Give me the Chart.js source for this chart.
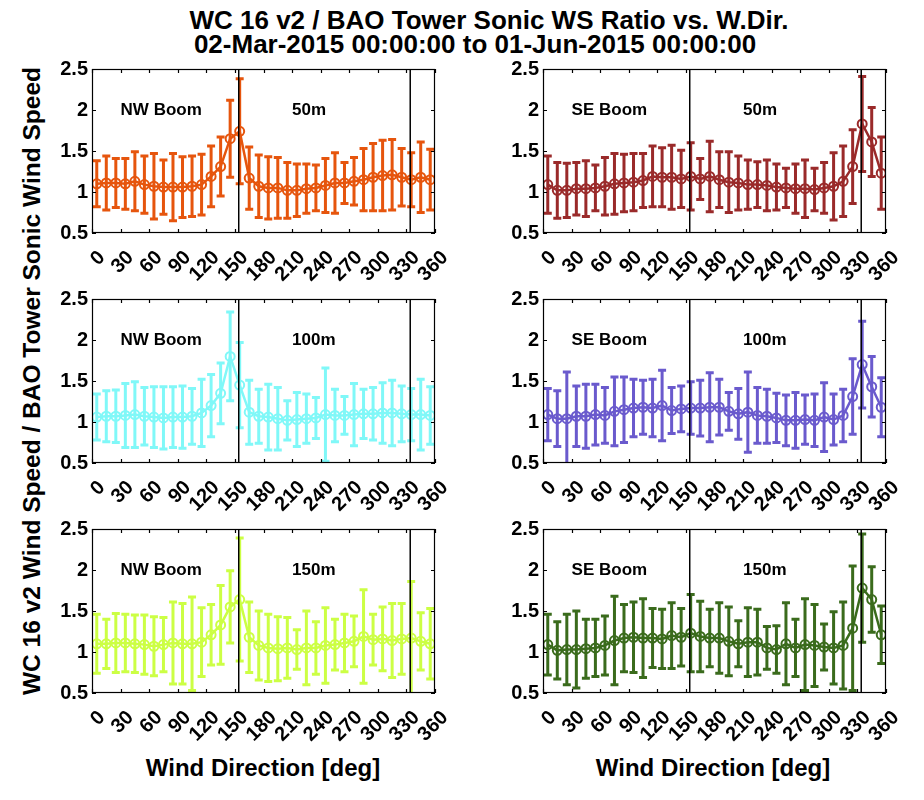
<!DOCTYPE html>
<html>
<head>
<meta charset="utf-8">
<script src="https://cdn.jsdelivr.net/npm/chart.js@4.4.1/dist/chart.umd.min.js"></script>
<style>
  body { margin: 0; background: #fff; width: 924px; height: 800px; position: relative; overflow: hidden;
         font-family: "Liberation Sans", Arial, sans-serif; font-weight: bold; color: #000; }
  canvas { position: absolute; }
  .t { position: absolute; white-space: nowrap; transform: translate(-50%, -50%); }
</style>
</head>
<body>
<div class="t" style="left:489px;top:20px;font-size:26px">WC 16 v2 / BAO Tower Sonic WS Ratio vs. W.Dir.</div>
<div class="t" style="left:475px;top:44px;font-size:26px">02-Mar-2015 00:00:00 to 01-Jun-2015 00:00:00</div>
<div class="t" style="left:32px;top:381px;font-size:24.5px;transform:translate(-50%,-50%) rotate(-90deg)">WC 16 v2 Wind Speed / BAO Tower Sonic Wind Speed</div>
<div class="t" style="left:263px;top:768px;font-size:24px">Wind Direction [deg]</div>
<div class="t" style="left:713px;top:768px;font-size:24px">Wind Direction [deg]</div>

<canvas id="nw50" width="410" height="244" style="left:40px;top:55px"></canvas>
<canvas id="se50" width="410" height="244" style="left:491px;top:55px"></canvas>
<canvas id="nw100" width="410" height="244" style="left:40px;top:285px"></canvas>
<canvas id="se100" width="410" height="244" style="left:491px;top:285px"></canvas>
<canvas id="nw150" width="410" height="244" style="left:40px;top:515px"></canvas>
<canvas id="se150" width="410" height="244" style="left:491px;top:515px"></canvas>

<script>
// wind direction bin centres (deg)
const dirBins = [5, 15, 25, 35, 45, 55, 65, 75, 85, 95, 105, 115, 125, 135, 145, 155, 165, 175,
                 185, 195, 205, 215, 225, 235, 245, 255, 265, 275, 285, 295, 305, 315, 325, 335, 345, 355];
const xTicks = [0, 30, 60, 90, 120, 150, 180, 210, 240, 270, 300, 330, 360];
const yTicks = [0.5, 1, 1.5, 2, 2.5];
const boomDirs = [154, 334];

// mean ratio and std dev per bin
const nw50Mean = [1.10, 1.11, 1.11, 1.10, 1.13, 1.09, 1.07, 1.06, 1.06, 1.06, 1.07, 1.09, 1.19, 1.31, 1.65, 1.74, 1.17, 1.07,
                  1.05, 1.05, 1.02, 1.02, 1.04, 1.05, 1.08, 1.11, 1.11, 1.13, 1.15, 1.18, 1.20, 1.21, 1.18, 1.15, 1.18, 1.15];
const nw50Sd   = [0.28, 0.33, 0.30, 0.31, 0.36, 0.35, 0.40, 0.33, 0.41, 0.37, 0.37, 0.37, 0.37, 0.36, 0.47, 0.64, 0.38, 0.38,
                  0.38, 0.37, 0.34, 0.32, 0.30, 0.28, 0.33, 0.37, 0.25, 0.29, 0.38, 0.41, 0.43, 0.43, 0.35, 0.33, 0.43, 0.37];

const se50Mean = [1.09, 1.02, 1.02, 1.04, 1.04, 1.05, 1.07, 1.10, 1.11, 1.12, 1.14, 1.19, 1.18, 1.18, 1.16, 1.19, 1.16, 1.19,
                  1.15, 1.12, 1.11, 1.09, 1.09, 1.08, 1.06, 1.05, 1.04, 1.04, 1.03, 1.05, 1.07, 1.13, 1.31, 1.83, 1.61, 1.23];
const se50Sd   = [0.35, 0.34, 0.33, 0.32, 0.34, 0.28, 0.35, 0.37, 0.35, 0.35, 0.33, 0.37, 0.36, 0.39, 0.35, 0.41, 0.25, 0.43,
                  0.34, 0.37, 0.33, 0.30, 0.28, 0.31, 0.28, 0.24, 0.30, 0.35, 0.26, 0.31, 0.41, 0.43, 0.45, 0.58, 0.42, 0.44];

const nw100Mean = [1.06, 1.07, 1.07, 1.08, 1.09, 1.07, 1.06, 1.05, 1.06, 1.06, 1.07, 1.11, 1.20, 1.35, 1.80, 1.45, 1.12, 1.07,
                   1.06, 1.04, 1.02, 1.03, 1.04, 1.05, 1.09, 1.08, 1.08, 1.09, 1.10, 1.10, 1.11, 1.11, 1.10, 1.09, 1.09, 1.08];
const nw100Sd   = [0.28, 0.31, 0.32, 0.39, 0.40, 0.35, 0.37, 0.38, 0.37, 0.38, 0.34, 0.41, 0.38, 0.37, 0.54, 0.52, 0.39, 0.33,
                   0.40, 0.38, 0.24, 0.33, 0.30, 0.25, 0.57, 0.32, 0.23, 0.38, 0.30, 0.32, 0.37, 0.40, 0.34, 0.32, 0.43, 0.35];

const se100Mean = [1.09, 1.04, 1.04, 1.07, 1.07, 1.09, 1.08, 1.13, 1.15, 1.17, 1.18, 1.17, 1.20, 1.14, 1.16, 1.17, 1.17, 1.18,
                   1.18, 1.13, 1.10, 1.12, 1.08, 1.07, 1.05, 1.02, 1.02, 1.03, 1.02, 1.06, 1.03, 1.08, 1.31, 1.70, 1.43, 1.18];
const se100Sd   = [0.32, 0.34, 0.57, 0.37, 0.39, 0.37, 0.34, 0.42, 0.40, 0.35, 0.33, 0.35, 0.43, 0.28, 0.28, 0.32, 0.34, 0.42,
                   0.34, 0.23, 0.31, 0.49, 0.34, 0.33, 0.30, 0.31, 0.34, 0.30, 0.32, 0.42, 0.31, 0.32, 0.46, 0.53, 0.37, 0.36];

const nw150Mean = [1.10, 1.10, 1.11, 1.11, 1.10, 1.09, 1.07, 1.09, 1.11, 1.10, 1.10, 1.12, 1.21, 1.33, 1.55, 1.64, 1.18, 1.08,
                   1.05, 1.04, 1.05, 1.03, 1.05, 1.05, 1.08, 1.09, 1.11, 1.13, 1.19, 1.15, 1.16, 1.14, 1.16, 1.17, 1.13, 1.10];
const nw150Sd   = [0.36, 0.30, 0.36, 0.35, 0.35, 0.36, 0.36, 0.33, 0.50, 0.49, 0.57, 0.42, 0.37, 0.48, 0.44, 0.75, 0.43, 0.42,
                   0.41, 0.39, 0.37, 0.24, 0.45, 0.32, 0.46, 0.31, 0.35, 0.31, 0.57, 0.31, 0.39, 0.45, 0.43, 0.69, 0.35, 0.43];

const se150Mean = [1.09, 1.02, 1.03, 1.03, 1.04, 1.05, 1.08, 1.14, 1.17, 1.18, 1.17, 1.17, 1.16, 1.20, 1.18, 1.23, 1.19, 1.17,
                   1.17, 1.13, 1.10, 1.12, 1.12, 1.05, 1.03, 1.10, 1.05, 1.09, 1.08, 1.06, 1.05, 1.08, 1.29, 1.78, 1.64, 1.21];
const se150Sd   = [0.37, 0.35, 0.43, 0.47, 0.36, 0.35, 0.36, 0.54, 0.41, 0.43, 0.48, 0.36, 0.36, 0.40, 0.35, 0.47, 0.43, 0.35,
                   0.43, 0.42, 0.28, 0.42, 0.40, 0.26, 0.29, 0.50, 0.35, 0.56, 0.50, 0.28, 0.44, 0.53, 0.76, 0.66, 0.40, 0.35];

const tickFont = { family: '"Liberation Sans", Arial, sans-serif', size: 20, weight: 'bold' };

// draws the box, inside ticks, boom lines, error bars and the labels inside the axes
const panelPlugin = {
  id: 'panel',
  beforeDatasetsDraw(chart) {
    const { ctx, chartArea: a, scales: { x, y } } = chart;
    const ds = chart.data.datasets[0];
    ctx.save();
    ctx.beginPath();
    ctx.rect(a.left, a.top, a.right - a.left, a.bottom - a.top);
    ctx.clip();
    ctx.strokeStyle = ds.borderColor;
    ctx.lineWidth = 3;
    ds.sd.forEach((s, i) => {
      const px = x.getPixelForValue(dirBins[i]);
      const top = y.getPixelForValue(ds.mean[i] + s);
      const bot = y.getPixelForValue(ds.mean[i] - s);
      ctx.beginPath();
      ctx.moveTo(px, top); ctx.lineTo(px, bot);
      ctx.moveTo(px - 4, top); ctx.lineTo(px + 4, top);
      ctx.moveTo(px - 4, bot); ctx.lineTo(px + 4, bot);
      ctx.stroke();
    });
    ctx.restore();
  },
  afterDatasetsDraw(chart) {
    const { ctx, chartArea: a, scales: { x, y } } = chart;
    const ds = chart.data.datasets[0];
    ctx.save();
    ctx.strokeStyle = '#000';
    ctx.lineWidth = 1.5;
    boomDirs.forEach(d => {
      const px = x.getPixelForValue(d);
      ctx.beginPath();
      ctx.moveTo(px, a.top); ctx.lineTo(px, a.bottom);
      ctx.stroke();
    });
    ctx.lineWidth = 1.2;
    ctx.strokeRect(a.left + 0.5, a.top + 0.5, a.right - a.left - 1, a.bottom - a.top - 1);
    ctx.beginPath();
    xTicks.forEach(v => {
      const px = Math.round(x.getPixelForValue(v)) + 0.5;
      ctx.moveTo(px, a.top); ctx.lineTo(px, a.top + 4);
      ctx.moveTo(px, a.bottom); ctx.lineTo(px, a.bottom - 4);
    });
    yTicks.forEach(v => {
      const py = Math.round(y.getPixelForValue(v)) + 0.5;
      ctx.moveTo(a.left, py); ctx.lineTo(a.left + 4, py);
      ctx.moveTo(a.right, py); ctx.lineTo(a.right - 4, py);
    });
    ctx.stroke();
    ctx.fillStyle = '#000';
    ctx.font = 'bold 17px "Liberation Sans", Arial, sans-serif';
    ctx.textAlign = 'left';
    ctx.textBaseline = 'middle';
    ctx.fillText(ds.boom, x.getPixelForValue(30), y.getPixelForValue(2.0));
    ctx.fillText(ds.height, x.getPixelForValue(210), y.getPixelForValue(2.0));
    ctx.restore();
  }
};

function makePanel(id, mean, sd, color, boom, height) {
  new Chart(document.getElementById(id), {
    type: 'line',
    data: {
      datasets: [{
        data: dirBins.map((d, i) => ({ x: d, y: mean[i] })),
        mean: mean, sd: sd, boom: boom, height: height,
        borderColor: color,
        borderWidth: 2.5,
        pointRadius: 4.5,
        pointBorderWidth: 2,
        pointBorderColor: color,
        pointBackgroundColor: 'rgba(0,0,0,0)',
        tension: 0
      }]
    },
    options: {
      responsive: false,
      animation: false,
      layout: { padding: { top: 14, right: 15, left: 0, bottom: 0 } },
      plugins: { legend: { display: false }, tooltip: { enabled: false } },
      scales: {
        x: {
          type: 'linear', min: 0, max: 360,
          afterBuildTicks: s => { s.ticks = xTicks.map(v => ({ value: v })); },
          grid: { display: false, drawTicks: false },
          border: { display: false },
          ticks: { autoSkip: false, minRotation: 45, maxRotation: 45, color: '#000', font: tickFont,
                   padding: 13, labelOffset: 10, callback: v => String(v) },
          afterFit: s => { s.height = 66; s.paddingLeft = 0; s.paddingRight = 0; }
        },
        y: {
          min: 0.5, max: 2.5,
          afterBuildTicks: s => { s.ticks = yTicks.map(v => ({ value: v })); },
          grid: { display: false, drawTicks: false },
          border: { display: false },
          ticks: { color: '#000', font: tickFont, padding: 4, callback: v => String(v) },
          afterFit: s => { s.width = 52; s.paddingTop = 0; s.paddingBottom = 0; }
        }
      }
    },
    plugins: [panelPlugin]
  });
}

makePanel('nw50', nw50Mean, nw50Sd, '#E6550D', 'NW Boom', '50m');
makePanel('se50', se50Mean, se50Sd, '#9A2A2A', 'SE Boom', '50m');
makePanel('nw100', nw100Mean, nw100Sd, '#80F8F8', 'NW Boom', '100m');
makePanel('se100', se100Mean, se100Sd, '#6A5ACD', 'SE Boom', '100m');
makePanel('nw150', nw150Mean, nw150Sd, '#CCFF44', 'NW Boom', '150m');
makePanel('se150', se150Mean, se150Sd, '#3A6B1C', 'SE Boom', '150m');
</script>
</body>
</html>
